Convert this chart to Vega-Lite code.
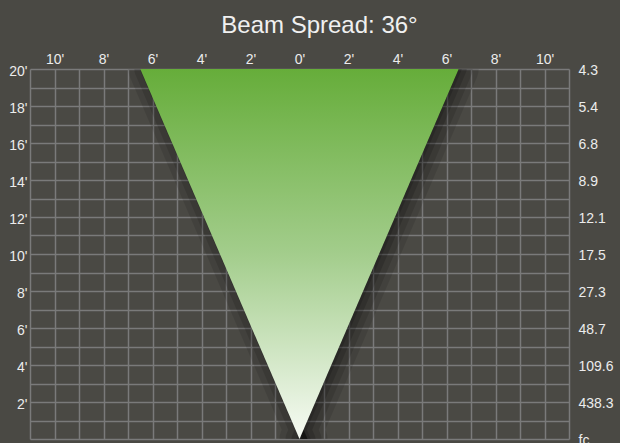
{
  "$schema": "https://vega.github.io/schema/vega-lite/v6.json",
  "autosize": "none",
  "width": 539,
  "height": 370,
  "padding": {"left": 30, "top": 69, "right": 51, "bottom": 4},
  "background": "#4a4944",
  "config": {
    "view": {"stroke": null},
    "font": "Liberation Sans",
    "axis": {"labelFont": "Liberation Sans", "labelFontSize": 14, "labelColor": "#ececec", "domain": false, "ticks": false, "labelFlush": false, "labelOverlap": false}
  },
  "title": {"text": "Beam Spread: 36°", "fontSize": 24, "fontWeight": "normal", "color": "#f0f0f0", "font": "Liberation Sans", "anchor": "middle", "dx": 20, "offset": 14},
  "data": {"values": [
    {"dist": 0, "left": 0, "right": 0},
    {"dist": 20, "left": -6.498, "right": 6.498}
  ]},
  "encoding": {
    "x": {"field": "left", "type": "quantitative", "scale": {"domain": [-11, 11], "nice": false, "zero": false},
      "axis": {"orient": "top", "values": [-11,-10,-9,-8,-7,-6,-5,-4,-3,-2,-1,0,1,2,3,4,5,6,7,8,9,10,11], "grid": true, "gridColor": "#7a7a7a", "gridWidth": 1.5, "gridOpacity": 1, "labelPadding": 3, "title": null,
        "labelExpr": "datum.value % 2 == 0 && abs(datum.value) <= 10 ? abs(datum.value) + \"'\" : ''"}},
    "x2": {"field": "right"}
  },
  "resolve": {"axis": {"y": "independent"}},
  "layer": [
    {
      "mark": {"type": "area", "clip": true, "xOffset": 8, "color": "black", "fillOpacity": 0.1, "stroke": "black", "strokeOpacity": 0.1, "strokeWidth": 40, "strokeJoin": "round"},
      "encoding": {
        "y": {"field": "dist", "type": "quantitative", "scale": {"domain": [0, 20], "nice": false, "zero": false},
          "axis": {"orient": "left", "values": [0,1,2,3,4,5,6,7,8,9,10,11,12,13,14,15,16,17,18,19,20], "grid": true, "gridColor": "#7a7a7a", "gridWidth": 1.5, "gridOpacity": 1, "labelPadding": 3, "labelOffset": 2, "title": null,
            "labelExpr": "datum.value % 2 == 0 && datum.value > 0 ? datum.value + \"'\" : ''"}}
      }
    },
    {
      "mark": {"type": "area", "clip": true, "xOffset": 8, "color": "black", "fillOpacity": 0.12, "stroke": "black", "strokeOpacity": 0.12, "strokeWidth": 28, "strokeJoin": "round"},
      "encoding": {
        "y": {"field": "dist", "type": "quantitative", "axis": null}
      }
    },
    {
      "mark": {"type": "area", "clip": true, "xOffset": 8, "color": "black", "fillOpacity": 0.15, "stroke": "black", "strokeOpacity": 0.15, "strokeWidth": 16, "strokeJoin": "round"},
      "encoding": {
        "y": {"field": "dist", "type": "quantitative", "axis": null}
      }
    },
    {
      "mark": {"type": "area", "clip": true, "xOffset": 8, "color": "black", "fillOpacity": 0.2, "stroke": "black", "strokeOpacity": 0.15, "strokeWidth": 6, "strokeJoin": "round"},
      "encoding": {
        "y": {"field": "dist", "type": "quantitative", "axis": null}
      }
    },
    {
      "mark": {"type": "area", "clip": true, "strokeWidth": 0,
        "color": {"gradient": "linear", "x1": 0, "y1": 0, "x2": 0, "y2": 1,
          "stops": [{"offset": 0, "color": "#66ad3a"}, {"offset": 0.5, "color": "#a3cd8c"}, {"offset": 1, "color": "#f7fbf4"}]}},
      "encoding": {
        "y": {"field": "dist", "type": "quantitative",
          "axis": {"orient": "right", "values": [0,2,4,6,8,10,12,14,16,18,20], "grid": false, "labelPadding": 9, "labelOffset": 1, "title": null,
            "labelExpr": "['fc','438.3','109.6','48.7','27.3','17.5','12.1','8.9','6.8','5.4','4.3'][datum.value / 2]"}}
      }
    }
  ]
}
